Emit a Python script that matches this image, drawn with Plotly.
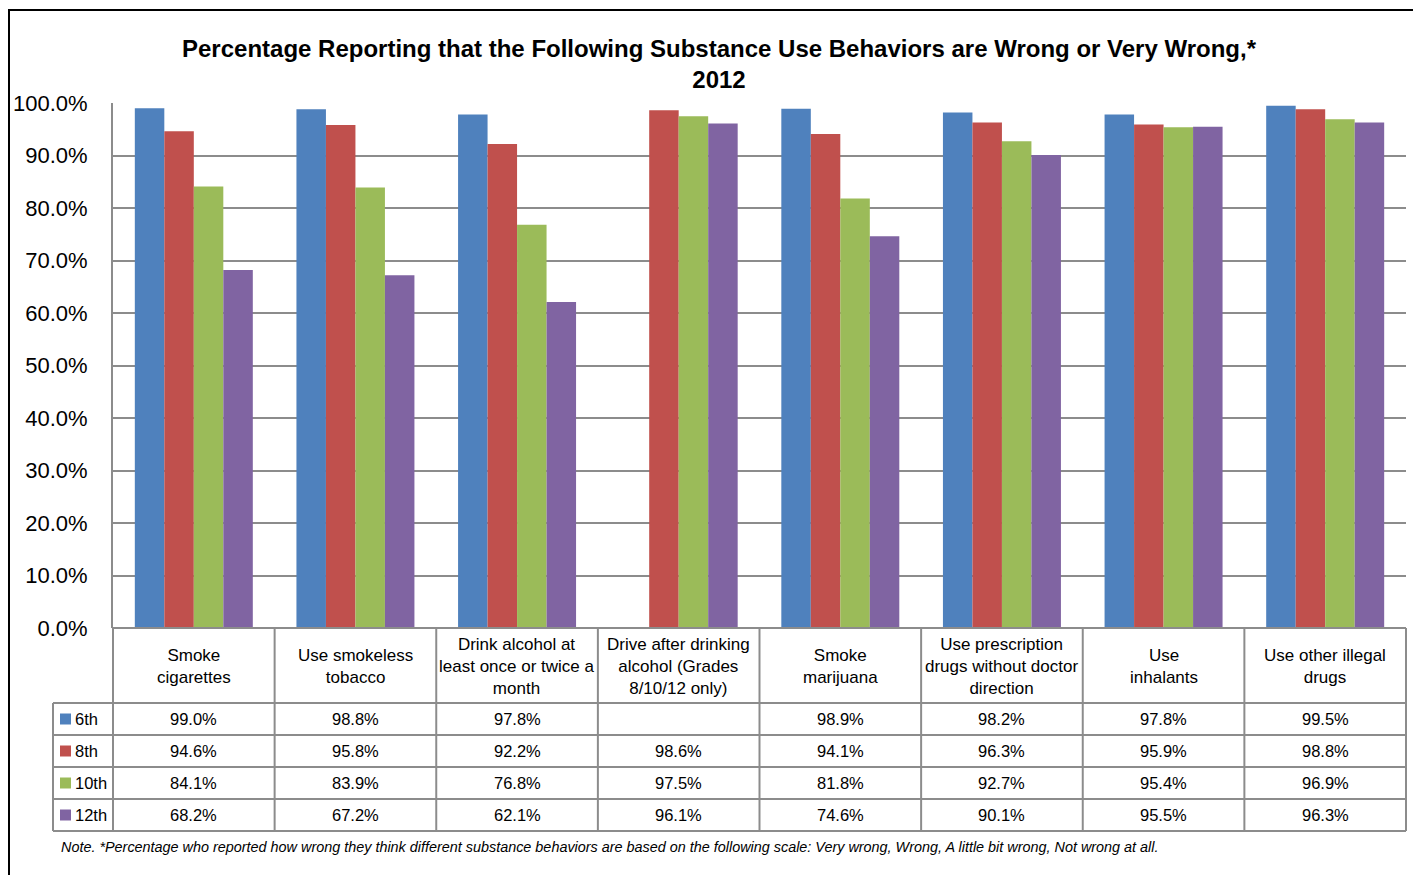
import plotly.graph_objects as go

categories = [
    "Smoke<br>cigarettes",
    "Use smokeless<br>tobacco",
    "Drink alcohol at<br>least once or twice a<br>month",
    "Drive after drinking<br>alcohol (Grades<br>8/10/12 only)",
    "Smoke<br>marijuana",
    "Use prescription<br>drugs without doctor<br>direction",
    "Use<br>inhalants",
    "Use other illegal<br>drugs",
]
grades = ["6th", "8th", "10th", "12th"]
grade_6 = [99.0, 98.8, 97.8, None, 98.9, 98.2, 97.8, 99.5]
grade_8 = [94.6, 95.8, 92.2, 98.6, 94.1, 96.3, 95.9, 98.8]
grade_10 = [84.1, 83.9, 76.8, 97.5, 81.8, 92.7, 95.4, 96.9]
grade_12 = [68.2, 67.2, 62.1, 96.1, 74.6, 90.1, 95.5, 96.3]
y_ticks = [0, 10, 20, 30, 40, 50, 60, 70, 80, 90, 100]

series = [grade_6, grade_8, grade_10, grade_12]
colors = ["#4F81BD", "#C0504D", "#9BBB59", "#8064A2"]

FONT = "Liberation Sans, Arial, sans-serif"
OFF = 8  # page body margin
W, H = 1421 - OFF, 875 - OFF
# plot area in screenshot pixels
L, R, T, B = 113, 1406, 103, 628
GRID = "#8C8C8C"


def px_x(x):
    return (x - L) / (R - L)


def px_y(y):
    return (B - y) / (B - T)


fig = go.Figure()
for name, vals, color in zip(grades, series, colors):
    fig.add_trace(go.Bar(
        x=categories, y=vals, name=name,
        marker=dict(color=color, line=dict(width=0)),
    ))

shapes = []
annotations = []
line = dict(color=GRID, width=2)

# data table grid
row_edges = [628, 703, 735, 767, 799, 831]
shapes.append(dict(type="line", xref="paper", yref="paper",
                   x0=0, x1=1, y0=px_y(628), y1=px_y(628), line=line))
for y in row_edges[1:]:
    shapes.append(dict(type="line", xref="paper", yref="paper",
                       x0=px_x(53), x1=1, y0=px_y(y), y1=px_y(y), line=line))
shapes.append(dict(type="line", xref="paper", yref="paper",
                   x0=px_x(53), x1=px_x(53), y0=px_y(703), y1=px_y(831), line=line))
n = len(categories)
for i in range(n + 1):
    shapes.append(dict(type="line", xref="paper", yref="paper",
                       x0=i / n, x1=i / n, y0=px_y(628), y1=px_y(831), line=line))

for i, cat in enumerate(categories):
    annotations.append(dict(
        x=(i + 0.5) / n, y=px_y(666), xref="paper", yref="paper",
        text=cat, showarrow=False, xanchor="center", yanchor="middle",
        font=dict(family=FONT, size=17, color="#000000"),
    ))

for r, (name, vals, color) in enumerate(zip(grades, series, colors)):
    yc = (row_edges[r + 1] + row_edges[r + 2]) / 2
    shapes.append(dict(type="rect", xref="paper", yref="paper",
                       x0=px_x(60), x1=px_x(71), y0=px_y(yc - 5.5), y1=px_y(yc + 5.5),
                       fillcolor=color, line=dict(width=0)))
    annotations.append(dict(
        x=px_x(73), y=px_y(yc), xref="paper", yref="paper",
        text=name, showarrow=False, xanchor="left", yanchor="middle",
        font=dict(family=FONT, size=16.5, color="#000000"),
    ))
    for i, v in enumerate(vals):
        if v is None:
            continue
        annotations.append(dict(
            x=(i + 0.5) / n, y=px_y(yc), xref="paper", yref="paper",
            text=f"{v:.1f}%", showarrow=False, xanchor="center", yanchor="middle",
            font=dict(family=FONT, size=16.5, color="#000000"),
        ))

annotations.append(dict(
    x=px_x(59), y=px_y(847), xref="paper", yref="paper",
    text="<i>Note. *Percentage who reported how wrong they think different substance behaviors "
         "are based on the following scale: Very wrong, Wrong, A little bit wrong, Not wrong at all.</i>",
    showarrow=False, xanchor="left", yanchor="middle",
    font=dict(family=FONT, size=14.4, color="#000000"),
))

# outer chart frame
shapes.append(dict(type="rect", xref="paper", yref="paper",
                   x0=px_x(9), x1=px_x(1440), y0=px_y(10), y1=px_y(900),
                   line=dict(color="#000000", width=2), fillcolor="rgba(0,0,0,0)"))

fig.update_layout(
    width=W, height=H,
    margin=dict(l=L - OFF, r=W - (R - OFF), t=T - OFF, b=H - (B - OFF), autoexpand=False),
    paper_bgcolor="#ffffff", plot_bgcolor="#ffffff",
    barmode="group", bargap=0.27, bargroupgap=0,
    showlegend=False,
    title=dict(
        text="<b>Percentage Reporting that the Following Substance Use Behaviors are Wrong or Very Wrong,*<br>2012</b>",
        x=(719 - OFF) / W, xref="container", xanchor="center",
        y=1 - (57 - OFF) / H, yref="container", yanchor="middle",
        font=dict(family=FONT, size=24, color="#000000"),
    ),
    xaxis=dict(showticklabels=False, showgrid=False, zeroline=False, showline=False),
    yaxis=dict(
        range=[0, 100], tickvals=y_ticks, ticktext=[f"{v:.1f}%" for v in y_ticks],
        showgrid=True, gridcolor=GRID, gridwidth=2, zeroline=False,
        showline=True, linecolor=GRID, linewidth=2, ticks="",
        ticklabelstandoff=19, automargin=False,
        tickfont=dict(family=FONT, size=22, color="#000000"),
    ),
    shapes=shapes,
    annotations=annotations,
)

fig.write_html("out.html")
